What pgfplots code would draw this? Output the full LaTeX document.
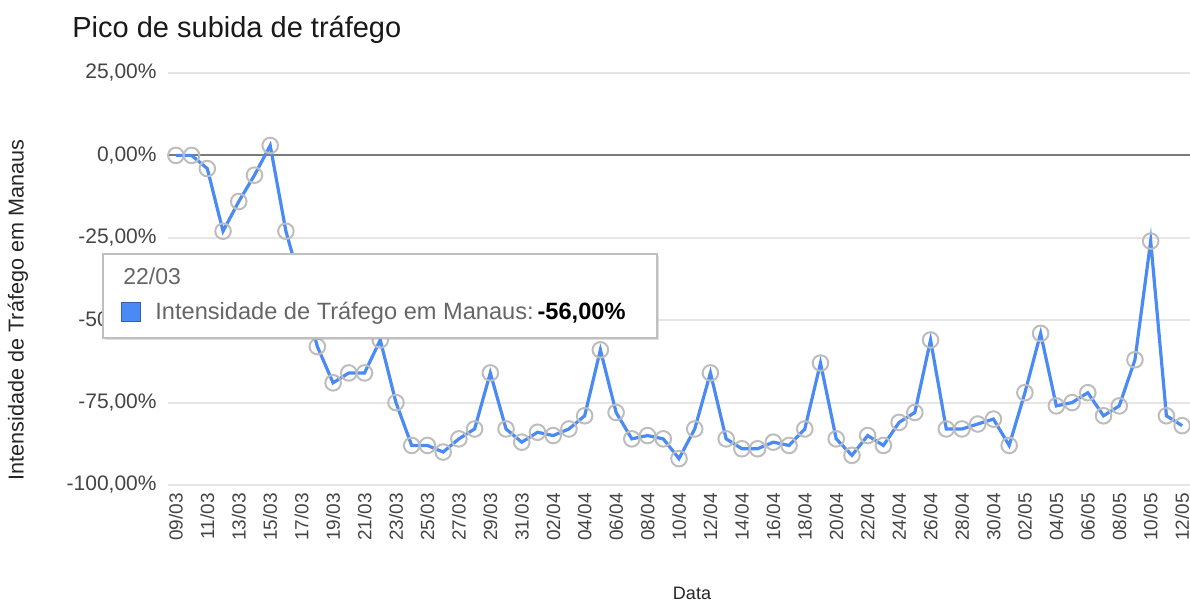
\documentclass[border=0pt]{standalone}
\usepackage{fontspec}
\setmainfont{Liberation Sans}
\usepackage{pgfplots}
\usepackage{pgfplotstable}
\pgfplotsset{compat=1.18}
\usetikzlibrary{shadows}
\definecolor{lineblue}{HTML}{4A8AF4}
\definecolor{txtgray}{HTML}{444444}
\definecolor{gridgray}{HTML}{E6E6E6}
\definecolor{basegray}{HTML}{7A7A7A}
\definecolor{markgray}{HTML}{BDBDBD}
\definecolor{tipgray}{HTML}{666666}

\pgfplotstableread{
x y
0 0
1 0
2 -4
3 -23
4 -14
5 -6
6 3
7 -23
8 -40
9 -58
10 -69
11 -66
12 -66
13 -56
14 -75
15 -88
16 -88
17 -90
18 -86
19 -83
20 -66
21 -83
22 -87
23 -84
24 -85
25 -83
26 -79
27 -59
28 -78
29 -86
30 -85
31 -86
32 -92
33 -83
34 -66
35 -86
36 -89
37 -89
38 -87
39 -88
40 -83
41 -63
42 -86
43 -91
44 -85
45 -88
46 -81
47 -78
48 -56
49 -83
50 -83
51 -81.5
52 -80
53 -88
54 -72
55 -54
56 -76
57 -75
58 -72
59 -79
60 -76
61 -62
62 -26
63 -79
64 -82
}\datatable

\begin{document}
\begin{tikzpicture}
\useasboundingbox (-84bp,-58bp) rectangle (511bp,242.5bp);
\begin{axis}[
  at={(0,0)}, anchor=south west,
  scale only axis, width=511bp, height=206bp,
  xmin=-0.5, xmax=64.5, ymin=-100, ymax=25,
  clip=false,
  axis line style={draw=none},
  major tick length=0pt,
  ymajorgrids, grid style={gridgray, line width=0.9bp},
  ytick={-100,-75,-50,-25,0,25},
  yticklabels={{-100,00\%},{-75,00\%},{-50,00\%},{-25,00\%},{0,00\%},{25,00\%}},
  yticklabel style={font=\fontsize{10.5bp}{12bp}\selectfont, text=txtgray, anchor=east, inner sep=0pt, xshift=-5.5bp},
  xtick={0,2,...,64},
  xticklabels={09/03,11/03,13/03,15/03,17/03,19/03,21/03,23/03,25/03,27/03,29/03,31/03,02/04,04/04,06/04,08/04,10/04,12/04,14/04,16/04,18/04,20/04,22/04,24/04,26/04,28/04,30/04,02/05,04/05,06/05,08/05,10/05,12/05},
  xticklabel style={font=\fontsize{9.5bp}{11bp}\selectfont, text=txtgray, rotate=90, anchor=east, inner xsep=4bp, inner ysep=0pt},
]
\draw[basegray, line width=1bp] (axis cs:-0.5,0) -- (axis cs:64.5,0);
\addplot[lineblue, line width=1.6bp, mark=o, mark size=3.9bp,
  mark options={draw=markgray, line width=1bp, fill=none}] table[x=x,y=y] {\datatable};
\end{axis}
\node[anchor=west, inner sep=0pt, font=\fontsize{14.5bp}{17bp}\selectfont, text=black!90] at (-48bp,227.5bp) {Pico de subida de tráfego};
\node[rotate=90, inner sep=0pt, font=\fontsize{10.8bp}{13bp}\selectfont, text=black!85] at (-75bp,87.5bp) {Intensidade de Tráfego em Manaus};
\node[inner sep=0pt, font=\fontsize{9bp}{11bp}\selectfont, text=black!85] at (262bp,-54bp) {Data};
% tooltip
\draw[draw=black!25, fill=white, line width=0.6bp, drop shadow={opacity=0.25, shadow xshift=0.8bp, shadow yshift=-0.8bp}] (-32.5bp,73.5bp) rectangle (244.5bp,115.5bp);
\node[anchor=west, inner sep=0pt, font=\fontsize{11.5bp}{13bp}\selectfont, text=tipgray] at (-22.5bp,104.5bp) {22/03};
\fill[lineblue, draw=lineblue!70!black, line width=0.5bp] (-23bp,81.5bp) rectangle (-13.5bp,91bp);
\node[anchor=west, inner sep=0pt, font=\fontsize{11.8bp}{13bp}\selectfont, text=tipgray] at (-6.5bp,86bp) {Intensidade de Tráfego em Manaus:\,\textcolor{black}{\textbf{-56,00\%}}};
\end{tikzpicture}
\end{document}
